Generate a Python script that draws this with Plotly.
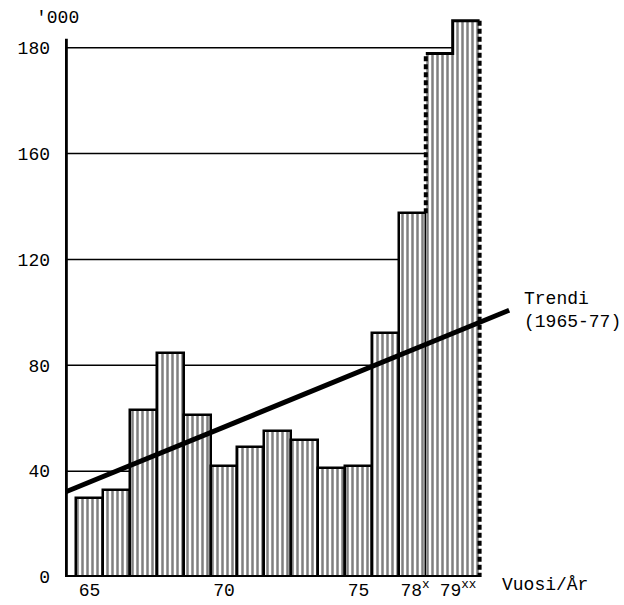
import plotly.graph_objects as go

# ---- data ----
years = [65, 66, 67, 68, 69, 70, 71, 72, 73, 74, 75, 76, 77, 78, 79]
values = [29.8, 32.8, 63.0, 84.5, 61.1, 41.9, 49.1, 55.1, 51.7, 41.1, 41.9, 92.1, 137.4, 178.9, 185.1]
y_tick_values = [0, 40, 80, 120, 160, 180]
y_tick_text = ["0", "40", "80", "120", "160", "180"]
x_tick_positions = [65, 70, 75, 77.1, 78.7]
x_tick_text = ["65", "70", "75", "78<sup>x</sup>", "79<sup>xx</sup>"]
trend_years = [64.1, 80.6]
trend_values = [32.1, 100.8]

FONT = "Liberation Mono"
FS = 18


def axis_pos(v):
    """The printed axis gives the step 160->180 the same height as a 40 step."""
    if v is None:
        return None
    return v if v <= 160 else 160 + (v - 160) * 2


bar_y = [axis_pos(v) for v in values]
line_widths = [2.5] * (len(years) - 2) + [0, 0]

fig = go.Figure()

fig.add_trace(go.Bar(
    x=years, y=bar_y, width=1,
    marker=dict(
        color="white",
        line=dict(color="black", width=line_widths),
        pattern=dict(shape="|", fgcolor="black", bgcolor="white", size=5, solidity=0.5),
    ),
    showlegend=False, hoverinfo="skip",
))

# outlines of the preliminary (78) and estimated (79) bars
p77, p78, p79 = bar_y[-3], bar_y[-2], bar_y[-1]
x78, x79 = years[-2], years[-1]
fig.add_trace(go.Scatter(
    x=[x78 - 0.5, x78 + 0.5, x79 - 0.5, x79 + 0.5],
    y=[p78, p78, p79, p79],
    mode="lines", line=dict(color="black", width=3),
    showlegend=False, hoverinfo="skip",
))
fig.add_trace(go.Scatter(
    x=[x78 - 0.5, x78 - 0.5, None, x79 + 0.5, x79 + 0.5],
    y=[p77, p78, None, p79, 0],
    mode="lines", line=dict(color="black", width=4, dash="5px,3px"),
    showlegend=False, hoverinfo="skip",
))

# trend line
fig.add_trace(go.Scatter(
    x=trend_years, y=trend_values, mode="lines",
    line=dict(color="black", width=5),
    showlegend=False, hoverinfo="skip",
))

x_start = 64.09
x_end = years[-1] + 0.5

shapes = []
for v in y_tick_values[1:]:
    shapes.append(dict(type="line", xref="x", yref="y", x0=x_start, x1=x_end,
                       y0=axis_pos(v), y1=axis_pos(v), layer="below",
                       line=dict(color="black", width=1.5)))
# baseline
shapes.append(dict(type="line", xref="x", yref="y", x0=x_start, x1=x_end, y0=0, y1=0,
                   line=dict(color="black", width=4)))
# y axis line
shapes.append(dict(type="line", xref="x", yref="y", x0=x_start + 0.03, x1=x_start + 0.03,
                   y0=0, y1=axis_pos(181.7), line=dict(color="black", width=4)))

fig.update_layout(
    width=624, height=605,
    margin=dict(l=65, r=114, t=8, b=28, autoexpand=False),
    paper_bgcolor="white", plot_bgcolor="white",
    font=dict(family=FONT, size=FS, color="black"),
    bargap=0,
    shapes=shapes,
    xaxis=dict(range=[x_start, 80.63], showgrid=False, zeroline=False, showline=False,
               automargin=False,
               tickmode="array", tickvals=x_tick_positions, ticktext=x_tick_text,
               ticks="", tickfont=dict(family=FONT, size=FS, color="black")),
    yaxis=dict(range=[0, 215], showgrid=False, zeroline=False, showline=False,
               automargin=False,
               tickmode="array", tickvals=[axis_pos(v) for v in y_tick_values],
               ticktext=y_tick_text, ticks="", ticklabelstandoff=14,
               tickfont=dict(family=FONT, size=FS, color="black")),
    annotations=[
        dict(text="'000", xref="paper", yref="paper", x=-0.016, y=0.982,
             xanchor="center", yanchor="middle", showarrow=False,
             font=dict(family=FONT, size=FS, color="black")),
        dict(text="Vuosi/År", xref="paper", yref="paper", x=0.978, y=-0.014,
             xanchor="left", yanchor="middle", showarrow=False,
             font=dict(family=FONT, size=FS, color="black")),
        dict(text="Trendi<br>(1965-77)", xref="paper", yref="paper", x=1.027, y=0.4675,
             xanchor="left", yanchor="middle", align="left", showarrow=False,
             font=dict(family=FONT, size=FS, color="black")),
    ],
)

fig.write_html(
    "out.html",
    config={"displayModeBar": False},
    post_script="document.body.style.margin='0';document.body.style.padding='0';"
                "document.body.style.overflow='hidden';",
)
